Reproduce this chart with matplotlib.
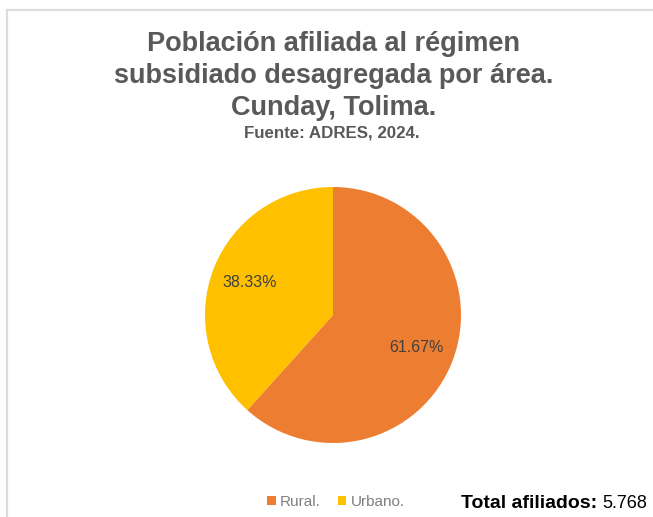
import matplotlib.pyplot as plt
from matplotlib.lines import Line2D

# data
areas = ['Rural.', 'Urbano.']
shares = [61.67, 38.33]
colors = ['#ED7D31', '#FFC000']
title_lines = ['Población afiliada al régimen',
               'subsidiado desagregada por área.',
               'Cunday, Tolima.']
source = 'Fuente: ADRES, 2024.'
total_label = 'Total afiliados:'
total_value = '5.768'

plt.rcParams['font.family'] = ['Liberation Sans', 'DejaVu Sans']

W, H = 653, 517
fig = plt.figure(figsize=(W / 100, H / 100), dpi=100)
fig.patch.set_facecolor('white')

# light frame on top and left like the screenshot
fig.add_artist(Line2D([7 / W, 1], [1 - 10 / H, 1 - 10 / H],
                      transform=fig.transFigure, color='#dcdcdc', lw=1.6))
fig.add_artist(Line2D([7 / W, 7 / W], [0, 1 - 10 / H],
                      transform=fig.transFigure, color='#dcdcdc', lw=1.6))

# title block, one line per baseline
for line, base in zip(title_lines, [51, 83, 115]):
    fig.text(333.5 / W, 1 - base / H, line, ha='center', va='baseline',
             fontsize=19.5, fontweight='bold', color='#595959')
fig.text(332 / W, 1 - 138 / H, source, ha='center', va='baseline',
         fontsize=12.2, fontweight='bold', color='#595959')

# pie
ax = fig.add_axes([(333 - 128) / W, (H - 315 - 128) / H, 256 / W, 256 / H])
wedges, texts, autotexts = ax.pie(shares, colors=colors, startangle=90, counterclock=False,
                                  autopct='%.2f%%', pctdistance=0.7,
                                  textprops={'fontsize': 11.5, 'color': '#404040'},
                                  wedgeprops={'linewidth': 0})
ax.set_xlim(-1.0, 1.0)
ax.set_ylim(-1.0, 1.0)
ax.set_aspect('equal')

# legend
fig.legend(wedges, areas, loc='center', bbox_to_anchor=(336 / W, 1 - 502 / H),
           ncol=2, frameon=False, fontsize=11, handlelength=0.55, handleheight=0.55,
           handletextpad=0.3, columnspacing=1.1, labelcolor='#7f7f7f')

# total, both parts on one baseline
fig.text(597 / W, 1 - 508 / H, total_label, ha='right', va='baseline',
         fontsize=14, fontweight='bold', color='black')
fig.text(602 / W, 1 - 508 / H, total_value, ha='left', va='baseline',
         fontsize=13, color='black')

fig.savefig('out.png', dpi=100)
